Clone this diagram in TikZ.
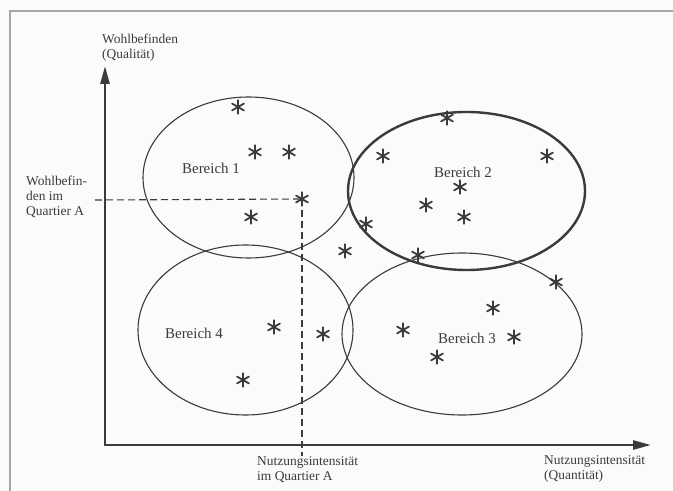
\documentclass[tikz,border=0pt]{standalone}
\usepackage{fontspec}
\setmainfont{Liberation Serif}
\usetikzlibrary{arrows.meta,shapes.geometric}
\definecolor{bg}{HTML}{FDFBF9}
\definecolor{ink}{HTML}{3C3A3A}
\definecolor{framecol}{HTML}{A8A6A6}
\tikzset{
  ell/.style={ellipse, draw=ink, line width=1.1bp, inner sep=0pt},
  ellthick/.style={ellipse, draw=ink, line width=2.4bp, inner sep=0pt},
  axisline/.style={draw=ink, line width=2.6bp, line join=miter, {Triangle[length=18bp,width=9bp]}-{Triangle[length=18bp,width=9bp]}},
  guide/.style={draw=ink, line width=1.1bp, dash pattern=on 7bp off 4bp},
  lbl/.style={font=\fontsize{13.5}{15}\selectfont, text=ink, inner sep=0pt, align=left},
  blbl/.style={font=\fontsize{15}{17}\selectfont, text=ink, inner sep=0pt},
  ast/.pic={\foreach \a in {90,30,150} \draw[ink, line width=1.8bp, line cap=round] (\a:6.8bp) -- (\a+180:6.8bp);}
}
\begin{document}
\begin{tikzpicture}[x=1bp,y=-1bp]
\fill[bg] (0,0) rectangle (673,491);
\useasboundingbox (0,0) rectangle (673,491);
% frame
\draw[framecol, line width=1.5bp] (10,491) -- (10,11) -- (673,11);
% ellipses
\node[ell, minimum width=211bp, minimum height=161bp] (e1) at (248.5,177.5) {};
\node[ellthick, minimum width=237bp, minimum height=158bp] (e2) at (466.5,191) {};
\node[ell, minimum width=215bp, minimum height=170bp] (e4) at (245.5,330) {};
\node[ell, minimum width=240bp, minimum height=162bp] (e3) at (462,334) {};
% axes
\coordinate (O) at (105,445);
\coordinate (ytop) at (105,66);
\coordinate (xend) at (651,445);
\draw[axisline] (ytop) -- (O) -- (xend);
% guide lines
\coordinate (qa) at (302,199);
\coordinate (hstart) at (95,200);
\coordinate (vend) at (302,456);
\draw[guide] (hstart) -- (qa);
\draw[guide] (qa) -- (vend);
% labels
\node[lbl, anchor=north west] (ylab) at (102,34) {Wohlbefinden\\(Qualität)};
\node[lbl, anchor=north west] (wa) at (26,176) {Wohlbefin-\\den im\\Quartier A};
\node[lbl, anchor=north west] (na) at (257,456) {Nutzungsintensität\\im Quartier A};
\node[lbl, anchor=north west] (xlab) at (544,455) {Nutzungsintensität\\(Quantität)};
\node[blbl] (b1) at (211,168) {Bereich 1};
\node[blbl] (b2) at (463,172) {Bereich 2};
\node[blbl] (b4) at (194,333) {Bereich 4};
\node[blbl] (b3) at (467,338) {Bereich 3};
% stars
\foreach \p in {(238,107),(255,152),(289,152),(302,199),(251,217),
  (447,118),(383,156),(547,156),(460,187),(426,205),(464,217),(366,224),
  (345,251),(418,255),(556,282),
  (493,308),(403,330),(514,337),(437,357),
  (274,327),(323,334),(243,380)}
  \pic at \p {ast};
\end{tikzpicture}
\end{document}
